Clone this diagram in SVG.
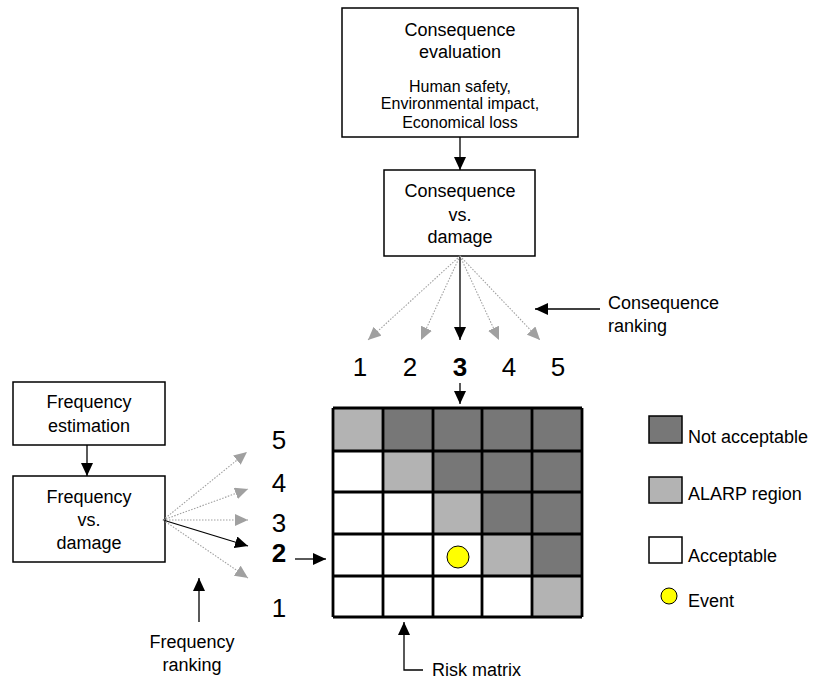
<svg xmlns="http://www.w3.org/2000/svg" width="813" height="679" viewBox="0 0 813 679">
<defs>
<style>
text{font-family:"Liberation Sans",Arial,sans-serif;fill:#000}
.t18{font-size:18px}
.t16{font-size:16px}
.num{font-size:26px}
.c{text-anchor:middle}
.box{fill:#fff;stroke:#000;stroke-width:1.5}
.blk{stroke:#000;stroke-width:1.3;fill:none;marker-end:url(#ah)}
.gry{stroke:#a0a0a0;stroke-width:1.1;stroke-dasharray:1.5 1.5;fill:none;marker-end:url(#ahg)}
.dk{fill:#777}
.lt{fill:#b3b3b3}
.wt{fill:#fff}
.grid{stroke:#000;stroke-width:2.8;fill:none}
.ev{fill:#ffff00;stroke:#000;stroke-width:1}
.leg{stroke:#000;stroke-width:1.5}
</style>
<marker id="ah" viewBox="0 0 13 12" refX="13" refY="6" markerWidth="13" markerHeight="12" markerUnits="userSpaceOnUse" orient="auto"><path d="M0,0L13,6L0,12z" fill="#000"/></marker>
<marker id="ahg" viewBox="0 0 13 12" refX="13" refY="6" markerWidth="13" markerHeight="12" markerUnits="userSpaceOnUse" orient="auto"><path d="M0,0L13,6L0,12z" fill="#a0a0a0"/></marker>
</defs>
<rect width="813" height="679" fill="#fff"/>

<g id="consequence-evaluation">
<rect class="box" x="342" y="8" width="236" height="129"/>
<text class="t18 c" x="460" y="36">Consequence</text>
<text class="t18 c" x="460" y="58">evaluation</text>
<text class="t16 c" x="460" y="92">Human safety,</text>
<text class="t16 c" x="460" y="109">Environmental impact,</text>
<text class="t16 c" x="460" y="128">Economical loss</text>
</g>

<g id="consequence-vs-damage">
<rect class="box" x="384" y="170" width="151" height="86"/>
<text class="t18 c" x="460" y="197">Consequence</text>
<text class="t18 c" x="460" y="221">vs.</text>
<text class="t18 c" x="460" y="243">damage</text>
</g>

<g id="frequency-estimation">
<rect class="box" x="13" y="382" width="152" height="63"/>
<text class="t18 c" x="89" y="408">Frequency</text>
<text class="t18 c" x="89" y="432">estimation</text>
</g>

<g id="frequency-vs-damage">
<rect class="box" x="13" y="476" width="152" height="86"/>
<text class="t18 c" x="89" y="503">Frequency</text>
<text class="t18 c" x="89" y="526">vs.</text>
<text class="t18 c" x="89" y="549">damage</text>
</g>

<g id="consequence-ranks">
<text class="num c" x="360" y="376">1</text>
<text class="num c" x="410" y="376">2</text>
<text class="num c" x="460" y="376" font-weight="bold">3</text>
<text class="num c" x="509" y="376">4</text>
<text class="num c" x="558" y="376">5</text>
</g>

<g id="frequency-ranks">
<text class="num c" x="279" y="449">5</text>
<text class="num c" x="279" y="492">4</text>
<text class="num c" x="279" y="532">3</text>
<text class="num c" x="279" y="562" font-weight="bold">2</text>
<text class="num c" x="279" y="617">1</text>
</g>

<g id="risk-matrix">
<rect class="lt" x="333" y="408" width="50" height="43"/>
<rect class="dk" x="383" y="408" width="199" height="43"/>
<rect class="wt" x="333" y="451" width="50" height="41"/>
<rect class="lt" x="383" y="451" width="50" height="41"/>
<rect class="dk" x="433" y="451" width="149" height="41"/>
<rect class="wt" x="333" y="492" width="100" height="42"/>
<rect class="lt" x="433" y="492" width="49" height="42"/>
<rect class="dk" x="482" y="492" width="100" height="42"/>
<rect class="wt" x="333" y="534" width="149" height="42"/>
<rect class="lt" x="482" y="534" width="50" height="42"/>
<rect class="dk" x="532" y="534" width="50" height="42"/>
<rect class="wt" x="333" y="576" width="199" height="41"/>
<rect class="lt" x="532" y="576" width="50" height="41"/>
<path class="grid" d="M333,408H582M333,451H582M333,492H582M333,534H582M333,576H582M333,617H582M333,408V617M383,408V617M433,408V617M482,408V617M532,408V617M582,408V617"/>
<circle class="ev" cx="458" cy="557" r="11"/>
</g>

<g id="legend">
<rect class="dk leg" x="649" y="416" width="33" height="27"/>
<text class="t18" x="688" y="443">Not acceptable</text>
<rect class="lt leg" x="649" y="477" width="33" height="26"/>
<text class="t18" x="688" y="500">ALARP region</text>
<rect class="wt leg" x="649" y="537" width="33" height="26"/>
<text class="t18" x="688" y="562">Acceptable</text>
<circle class="ev" cx="669" cy="596" r="8"/>
<text class="t18" x="688" y="607">Event</text>
</g>

<g id="labels">
<text class="t18" x="608" y="309">Consequence</text>
<text class="t18" x="608" y="332">ranking</text>
<text class="t18 c" x="192" y="648">Frequency</text>
<text class="t18 c" x="192" y="671">ranking</text>
<text class="t18" x="432" y="676">Risk matrix</text>
</g>

<g id="connectors">
<line class="blk" x1="460" y1="137" x2="460" y2="170"/>
<line class="blk" x1="87" y1="445" x2="87" y2="476"/>
<line class="gry" x1="460" y1="256" x2="368" y2="340"/>
<line class="gry" x1="460" y1="256" x2="421" y2="340"/>
<line class="blk" x1="460" y1="256" x2="460" y2="340"/>
<line class="gry" x1="460" y1="256" x2="499" y2="340"/>
<line class="gry" x1="460" y1="256" x2="540" y2="340"/>
<line class="gry" x1="163" y1="520" x2="247" y2="452"/>
<line class="gry" x1="163" y1="520" x2="248" y2="489"/>
<line class="gry" x1="163" y1="520" x2="248" y2="520"/>
<line class="blk" x1="163" y1="520" x2="248" y2="546"/>
<line class="gry" x1="163" y1="520" x2="248" y2="578"/>
<line class="blk" x1="460" y1="383" x2="460" y2="404"/>
<line class="blk" x1="295" y1="559" x2="326" y2="559"/>
<line class="blk" x1="600" y1="309" x2="535" y2="309"/>
<line class="blk" x1="199" y1="622" x2="199" y2="578"/>
<polyline class="blk" points="423,670 404,670 404,622"/>
</g>
</svg>
